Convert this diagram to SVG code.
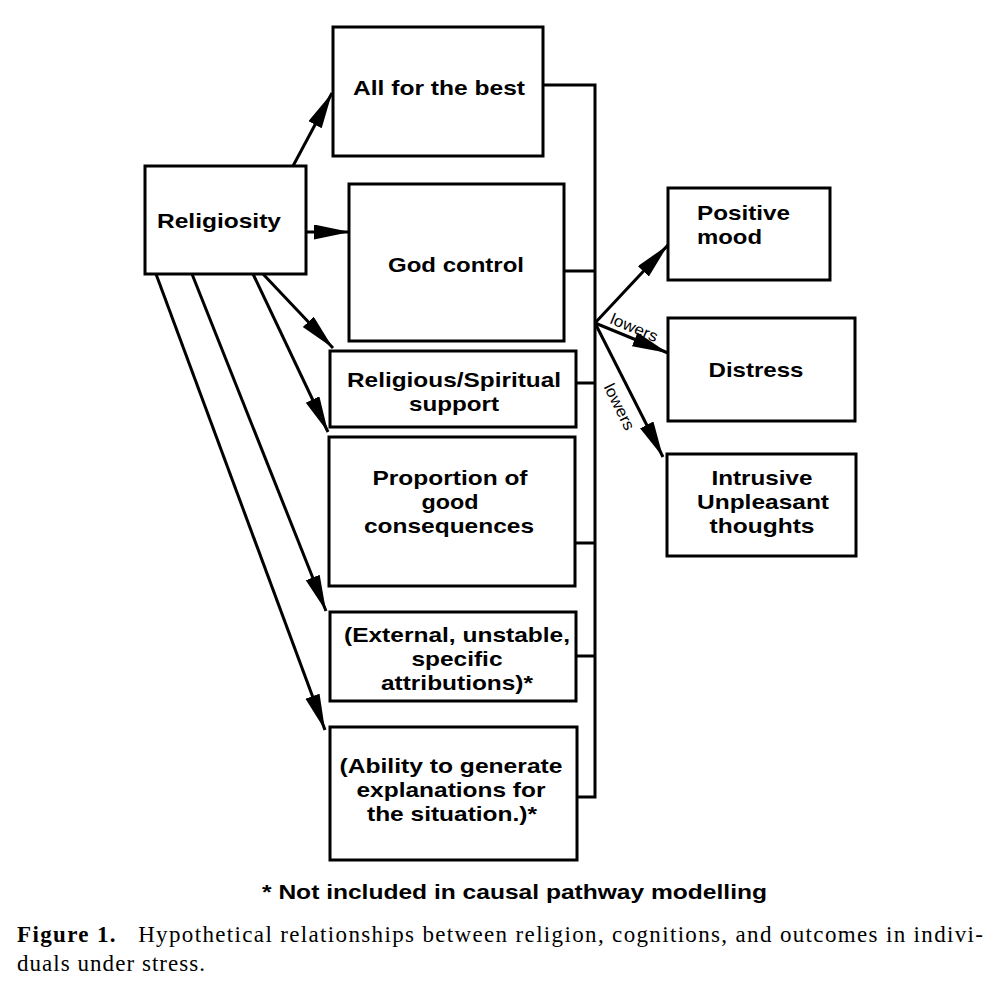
<svg xmlns="http://www.w3.org/2000/svg" width="1001" height="999" viewBox="0 0 1001 999">
<style>
.box{fill:#fff;stroke:#000;stroke-width:3}
.t{font-family:"Liberation Sans",Arial,sans-serif;font-weight:bold;font-size:21px;fill:#000;text-anchor:middle}
.ts{text-anchor:start}
.c{fill:none;stroke:#000;stroke-width:3}
.a{fill:none;stroke:#000;stroke-width:3;marker-end:url(#ah)}
.lbl{font-family:"Liberation Sans",Arial,sans-serif;font-size:16px;fill:#000;text-anchor:middle}
</style>
<defs>
<marker id="ah" markerUnits="userSpaceOnUse" markerWidth="38" markerHeight="16" refX="36" refY="7.5" orient="auto">
<path d="M0,0 L36,7.5 L0,15 z" fill="#000"/>
</marker>
</defs>
<rect width="1001" height="999" fill="#fff"/>
<g id="connectors">
<path class="c" d="M543,85 H595 V797 H577"/>
<path class="c" d="M564,271 H595"/>
<path class="c" d="M576,383 H595"/>
<path class="c" d="M575,543 H595"/>
<path class="c" d="M576,656 H595"/>
<path class="a" d="M293,166 L332,93"/>
<path class="a" d="M306,232 L350,232"/>
<path class="a" d="M263,274 L333,348"/>
<path class="a" d="M253,274 L328,432"/>
<path class="a" d="M192,274 L326,611"/>
<path class="a" d="M156,274 L325,730"/>
<path class="a" d="M595,323 L668,245"/>
<path class="a" d="M595,323 L668,353"/>
<path class="a" d="M595,323 L663,457"/>
<text class="lbl" transform="translate(634,328) rotate(22.6)" x="0" y="5" textLength="50" lengthAdjust="spacingAndGlyphs">lowers</text>
<text class="lbl" transform="translate(619,407) rotate(63.6)" x="0" y="5" textLength="50" lengthAdjust="spacingAndGlyphs">lowers</text>
</g>
<g id="religiosity">
<rect class="box" x="145" y="166" width="161" height="108"/>
<text class="t" x="219" y="228" textLength="124" lengthAdjust="spacingAndGlyphs">Religiosity</text>
</g>
<g id="all-for-the-best">
<rect class="box" x="333" y="27" width="210" height="129"/>
<text class="t" x="439" y="95" textLength="172" lengthAdjust="spacingAndGlyphs">All for the best</text>
</g>
<g id="god-control">
<rect class="box" x="349" y="184" width="215" height="157"/>
<text class="t" x="456" y="272" textLength="136" lengthAdjust="spacingAndGlyphs">God control</text>
</g>
<g id="religious-support">
<rect class="box" x="330" y="351" width="246" height="76"/>
<text class="t" x="454" y="387" textLength="214" lengthAdjust="spacingAndGlyphs">Religious/Spiritual</text>
<text class="t" x="454" y="411" textLength="90" lengthAdjust="spacingAndGlyphs">support</text>
</g>
<g id="proportion">
<rect class="box" x="329" y="437" width="246" height="149"/>
<text class="t" x="450" y="485" textLength="155" lengthAdjust="spacingAndGlyphs">Proportion of</text>
<text class="t" x="450" y="509" textLength="57" lengthAdjust="spacingAndGlyphs">good</text>
<text class="t" x="449" y="533" textLength="170" lengthAdjust="spacingAndGlyphs">consequences</text>
</g>
<g id="external">
<rect class="box" x="330" y="612" width="246" height="89"/>
<text class="t" x="457" y="642" textLength="226" lengthAdjust="spacingAndGlyphs">(External, unstable,</text>
<text class="t" x="457" y="666" textLength="91" lengthAdjust="spacingAndGlyphs">specific</text>
<text class="t" x="457" y="690" textLength="152" lengthAdjust="spacingAndGlyphs">attributions)*</text>
</g>
<g id="ability">
<rect class="box" x="330" y="727" width="247" height="133"/>
<text class="t" x="451" y="773" textLength="223" lengthAdjust="spacingAndGlyphs">(Ability to generate</text>
<text class="t" x="451" y="797" textLength="189" lengthAdjust="spacingAndGlyphs">explanations for</text>
<text class="t" x="452" y="821" textLength="170" lengthAdjust="spacingAndGlyphs">the situation.)*</text>
</g>
<g id="positive-mood">
<rect class="box" x="668" y="188" width="162" height="92"/>
<text class="t ts" x="697" y="220" textLength="93" lengthAdjust="spacingAndGlyphs">Positive</text>
<text class="t ts" x="697" y="244" textLength="65" lengthAdjust="spacingAndGlyphs">mood</text>
</g>
<g id="distress">
<rect class="box" x="668" y="318" width="187" height="103"/>
<text class="t" x="756" y="377" textLength="95" lengthAdjust="spacingAndGlyphs">Distress</text>
</g>
<g id="intrusive">
<rect class="box" x="667" y="454" width="189" height="102"/>
<text class="t" x="762" y="485" textLength="101" lengthAdjust="spacingAndGlyphs">Intrusive</text>
<text class="t" x="763" y="509" textLength="132" lengthAdjust="spacingAndGlyphs">Unpleasant</text>
<text class="t" x="762" y="533" textLength="105" lengthAdjust="spacingAndGlyphs">thoughts</text>
</g>
<g id="captions">
<text x="262" y="899" font-family="Liberation Sans,Arial,sans-serif" font-weight="bold" font-size="21" textLength="505" lengthAdjust="spacingAndGlyphs">* Not included in causal pathway modelling</text>
<text x="17" y="942" font-family="Liberation Serif,Times New Roman,serif" font-size="23" textLength="966" lengthAdjust="spacing"><tspan font-weight="bold">Figure 1.</tspan>&#160;&#160; Hypothetical relationships between religion, cognitions, and outcomes in indivi-</text>
<text x="17" y="971" font-family="Liberation Serif,Times New Roman,serif" font-size="23" textLength="188" lengthAdjust="spacing">duals under stress.</text>
</g>
</svg>
